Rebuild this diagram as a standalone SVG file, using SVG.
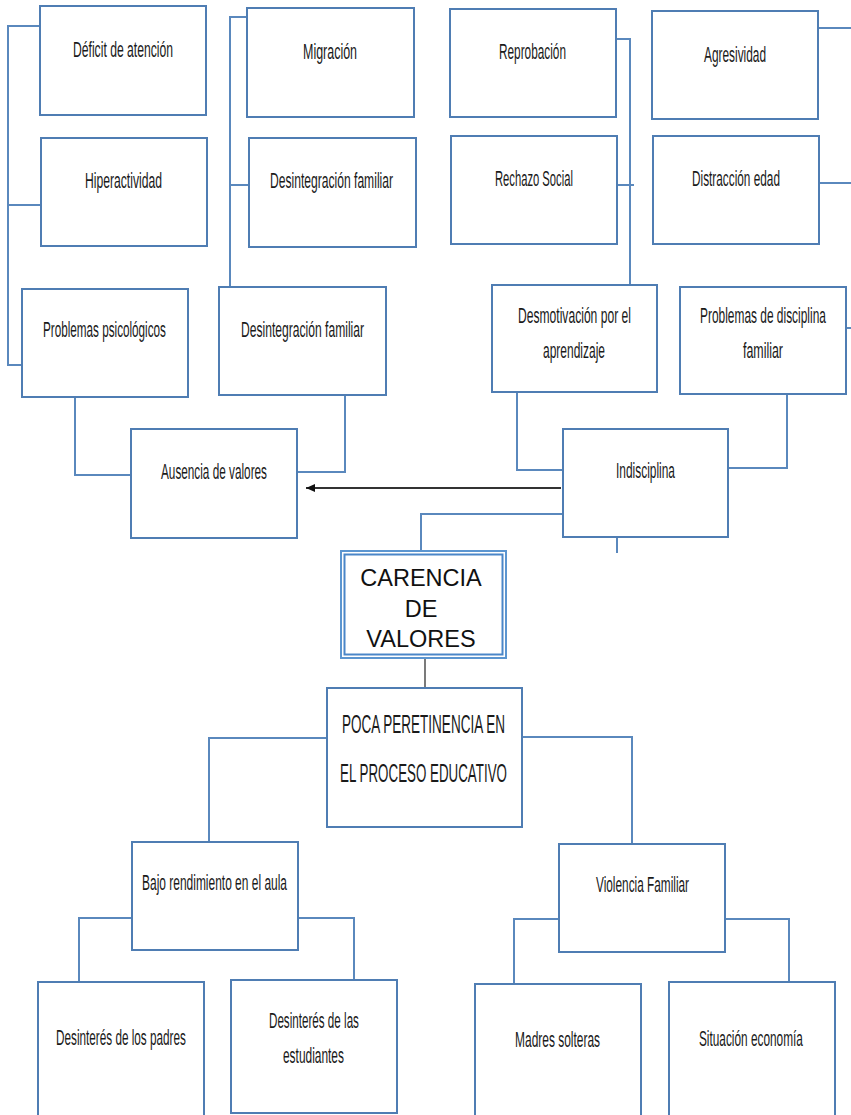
<svg xmlns="http://www.w3.org/2000/svg" width="851" height="1115" viewBox="0 0 851 1115">
<style>
.box{fill:#ffffff;stroke:#4f7db3;stroke-width:2}
.con{fill:none;stroke:#5a88bd;stroke-width:2}
.t{font-family:"Liberation Sans",Arial,sans-serif;font-size:22px;fill:#1a1a1a}
.tb{font-family:"Liberation Sans",Arial,sans-serif;font-size:26px;fill:#1a1a1a}
.ta{font-family:"Liberation Sans",Arial,sans-serif;font-size:23.5px;fill:#111111;text-anchor:middle}
</style>
<defs>
<marker id="ah" markerWidth="10" markerHeight="10" refX="9" refY="5" orient="auto" markerUnits="userSpaceOnUse">
<path d="M0,1 L9,5 L0,9 Z" fill="#111111"/>
</marker>
</defs>
<rect width="851" height="1115" fill="#ffffff"/>
<g id="connectors">
<path class="con" d="M40,26 H8 V365 H22 M8,205 H41"/>
<path class="con" d="M247,17 H230 V287 M230,185 H249"/>
<path class="con" d="M616,39 H630 V285 M617,185 H634"/>
<path class="con" d="M818,28 H851 M819,183 H851 M846,328 H851"/>
<path class="con" d="M75,397 V475 H131"/>
<path class="con" d="M345,395 V472 H297"/>
<path class="con" d="M517,392 V470 H563"/>
<path class="con" d="M787,394 V468 H728"/>
<path class="con" d="M563,514 H421 V551"/>
<path class="con" d="M617,537 V553"/>
<path d="M561,488 H306" stroke="#333333" stroke-width="2.2" fill="none" marker-end="url(#ah)"/>
<path d="M425,658 V688" stroke="#333333" stroke-width="1.3" fill="none"/>
<path class="con" d="M327,738 H209 V842"/>
<path class="con" d="M522,737 H632 V844"/>
<path class="con" d="M132,918 H79 V982 M298,918 H354 V980"/>
<path class="con" d="M559,919 H514 V984 M725,919 H789 V982"/>
</g>
<g id="n-deficit"><rect class="box" x="40" y="6" width="166" height="109"/><text class="t" x="73" y="57" transform="matrix(0.5525,0,0,1,32.67,0)" textLength="181" lengthAdjust="spacingAndGlyphs">Déficit de atención</text></g>
<g id="n-hiper"><rect class="box" x="41" y="138" width="166" height="108"/><text class="t" x="85" y="188" transform="matrix(0.552,0,0,1,38.08,0)" textLength="139.4" lengthAdjust="spacingAndGlyphs">Hiperactividad</text></g>
<g id="n-psico"><rect class="box" x="22" y="289" width="166" height="108"/><text class="t" x="43" y="337" transform="matrix(0.532,0,0,1,20.12,0)" textLength="231.1" lengthAdjust="spacingAndGlyphs">Problemas psicológicos</text></g>
<g id="n-migracion"><rect class="box" x="247" y="8" width="167" height="109"/><text class="t" x="303" y="59" transform="matrix(0.567,0,0,1,131.2,0)" textLength="95.3" lengthAdjust="spacingAndGlyphs">Migración</text></g>
<g id="n-desint1"><rect class="box" x="249" y="138" width="167" height="109"/><text class="t" x="270" y="188" transform="matrix(0.55,0,0,1,121.5,0)" textLength="223.7" lengthAdjust="spacingAndGlyphs">Desintegración familiar</text></g>
<g id="n-desint2"><rect class="box" x="219" y="287" width="167" height="108"/><text class="t" x="241" y="337" transform="matrix(0.55,0,0,1,108.45,0)" textLength="223.7" lengthAdjust="spacingAndGlyphs">Desintegración familiar</text></g>
<g id="n-reprobacion"><rect class="box" x="450" y="9" width="166" height="108"/><text class="t" x="499" y="59" transform="matrix(0.537,0,0,1,231.04,0)" textLength="124.7" lengthAdjust="spacingAndGlyphs">Reprobación</text></g>
<g id="n-agresividad"><rect class="box" x="652" y="11" width="166" height="108"/><text class="t" x="704" y="62" transform="matrix(0.54,0,0,1,323.84,0)" textLength="114.9" lengthAdjust="spacingAndGlyphs">Agresividad</text></g>
<g id="n-rechazo"><rect class="box" x="451" y="136" width="166" height="108"/><text class="t" x="495" y="186" transform="matrix(0.51,0,0,1,242.55,0)" textLength="152.8" lengthAdjust="spacingAndGlyphs">Rechazo Social</text></g>
<g id="n-distraccion"><rect class="box" x="653" y="136" width="166" height="108"/><text class="t" x="692" y="186" transform="matrix(0.537,0,0,1,320.4,0)" textLength="163.8" lengthAdjust="spacingAndGlyphs">Distracción edad</text></g>
<g id="n-desmotivacion"><rect class="box" x="492" y="285" width="165" height="107"/><text class="t" x="518" y="323" transform="matrix(0.55,0,0,1,233.1,0)" textLength="205.4" lengthAdjust="spacingAndGlyphs">Desmotivación por el</text><text class="t" x="543" y="358" transform="matrix(0.545,0,0,1,247.07,0)" textLength="113.7" lengthAdjust="spacingAndGlyphs">aprendizaje</text></g>
<g id="n-disciplina"><rect class="box" x="680" y="287" width="166" height="107"/><text class="t" x="700" y="323" transform="matrix(0.542,0,0,1,320.6,0)" textLength="232.3" lengthAdjust="spacingAndGlyphs">Problemas de disciplina</text><text class="t" x="743" y="358" transform="matrix(0.564,0,0,1,323.95,0)" textLength="70.9" lengthAdjust="spacingAndGlyphs">familiar</text></g>
<g id="n-ausencia"><rect class="box" x="131" y="429" width="166" height="109"/><text class="t" x="161" y="479" transform="matrix(0.535,0,0,1,74.87,0)" textLength="198.1" lengthAdjust="spacingAndGlyphs">Ausencia de valores</text></g>
<g id="n-indisciplina"><rect class="box" x="563" y="429" width="165" height="108"/><text class="t" x="616" y="478" transform="matrix(0.542,0,0,1,282.13,0)" textLength="108.8" lengthAdjust="spacingAndGlyphs">Indisciplina</text></g>
<g id="n-carencia"><rect x="341" y="551" width="165" height="107" fill="#ffffff" stroke="#5b95d0" stroke-width="2"/><rect x="344.5" y="554.5" width="158" height="100" fill="none" stroke="#4a86c8" stroke-width="2"/><text class="ta" x="421" y="586">CARENCIA</text><text class="ta" x="421" y="617">DE</text><text class="ta" x="421" y="647">VALORES</text></g>
<g id="n-poca"><rect class="box" x="327" y="688" width="195" height="139"/><text class="tb" x="342" y="733" transform="matrix(0.515,0,0,1,165.87,0)" textLength="316.4" lengthAdjust="spacingAndGlyphs">POCA PERETINENCIA EN</text><text class="tb" x="340" y="782" transform="matrix(0.509,0,0,1,166.94,0)" textLength="328" lengthAdjust="spacingAndGlyphs">EL PROCESO EDUCATIVO</text></g>
<g id="n-bajo"><rect class="box" x="132" y="842" width="166" height="108"/><text class="t" x="142" y="890" transform="matrix(0.544,0,0,1,64.75,0)" textLength="266.6" lengthAdjust="spacingAndGlyphs">Bajo rendimiento en el aula</text></g>
<g id="n-violencia"><rect class="box" x="559" y="844" width="166" height="108"/><text class="t" x="596" y="892" transform="matrix(0.536,0,0,1,276.54,0)" textLength="173.6" lengthAdjust="spacingAndGlyphs">Violencia Familiar</text></g>
<g id="n-padres"><rect class="box" x="38" y="982" width="166" height="145"/><text class="t" x="56" y="1045" transform="matrix(0.534,0,0,1,26.1,0)" textLength="243.3" lengthAdjust="spacingAndGlyphs">Desinterés de los padres</text></g>
<g id="n-estudiantes"><rect class="box" x="231" y="980" width="166" height="133"/><text class="t" x="269" y="1028" transform="matrix(0.529,0,0,1,126.7,0)" textLength="170" lengthAdjust="spacingAndGlyphs">Desinterés de las</text><text class="t" x="283" y="1063" transform="matrix(0.542,0,0,1,129.6,0)" textLength="112.5" lengthAdjust="spacingAndGlyphs">estudiantes</text></g>
<g id="n-madres"><rect class="box" x="475" y="984" width="166" height="145"/><text class="t" x="515" y="1047" transform="matrix(0.543,0,0,1,235.4,0)" textLength="156.5" lengthAdjust="spacingAndGlyphs">Madres solteras</text></g>
<g id="n-situacion"><rect class="box" x="669" y="982" width="166" height="145"/><text class="t" x="699" y="1046" transform="matrix(0.538,0,0,1,322.9,0)" textLength="193.2" lengthAdjust="spacingAndGlyphs">Situación economía</text></g>
</svg>
